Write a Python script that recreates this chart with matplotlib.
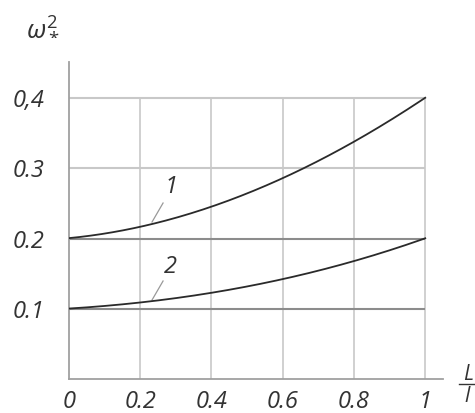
import numpy as np
import matplotlib.pyplot as plt
from matplotlib.lines import Line2D

# ratio L/l
x = [0.0, 0.2, 0.4, 0.6, 0.8, 1.0]
curve1 = [0.200, 0.219, 0.244, 0.285, 0.340, 0.400]
curve2 = [0.100, 0.110, 0.1225, 0.141, 0.1695, 0.200]

xticks = [0, 0.2, 0.4, 0.6, 0.8, 1]
xticklabels = ["0", "0.2", "0.4", "0.6", "0.8", "1"]
yticks = [0.1, 0.2, 0.3, 0.4]
yticklabels = ["0.1", "0.2", "0.3", "0,4"]

plt.rcParams["font.family"] = ["Open Sans", "DejaVu Sans"]
plt.rcParams["mathtext.fontset"] = "custom"
plt.rcParams["mathtext.it"] = "Open Sans:italic"
plt.rcParams["mathtext.rm"] = "Open Sans"

fig = plt.figure(figsize=(4.75, 4.13), dpi=100)
ax = fig.add_axes([0.1453, 0.0823, 0.7874, 0.7676])
ax.set_xlim(0, 1.05)
ax.set_ylim(0, 0.4516)

txt = "#333333"
grid_c = "#c8c8c8"

# grid
ax.vlines(xticks[1:], 0, 0.4, color=grid_c, lw=1.2, zorder=1)
ax.hlines([0.3, 0.4], 0, 1, color=grid_c, lw=1.5, zorder=1)
ax.hlines([0.1, 0.2], 0, 1, color="#8c8c8c", lw=1.5, zorder=2)

# smooth curves through the read points
xs = np.linspace(0, 1, 200)
for ys in (curve1, curve2):
    c = np.polyfit(x, ys, 3)
    ax.plot(xs, np.polyval(c, xs), color="#2a2a2a", lw=1.3, zorder=3)

# curve labels with leaders
ax.plot([0.233, 0.264], [0.2236, 0.2507], color="#999999", lw=0.9)
ax.plot([0.233, 0.264], [0.1125, 0.1396], color="#999999", lw=0.9)
ax.text(0.286, 0.2735, "1", fontsize=17, style="italic", color=txt, ha="center", va="center")
ax.text(0.286, 0.1595, "2", fontsize=17, style="italic", color=txt, ha="center", va="center")

for s in ("top", "right"):
    ax.spines[s].set_visible(False)
for s in ("left", "bottom"):
    ax.spines[s].set_color("#a0a0a0")
    ax.spines[s].set_linewidth(1.3)

ax.set_xticks(xticks)
ax.set_xticklabels(xticklabels, fontsize=17, style="italic", color=txt)
ax.set_yticks(yticks)
ax.set_yticklabels(yticklabels, fontsize=17, style="italic", color=txt)
ax.tick_params(axis="x", length=0, pad=8)
ax.tick_params(axis="y", length=0, pad=18)

fig.text(43 / 475, 1 - 27 / 413, r"$\omega_*^2$", fontsize=19, color=txt, ha="center", va="center")

# x-axis name as a fraction L / l
fig.text(468 / 475, 1 - 374 / 413, "L", fontsize=15, style="italic", color=txt, ha="center", va="center")
fig.text(467 / 475, 1 - 397 / 413, "l", fontsize=15, style="italic", color=txt, ha="center", va="center")
fig.add_artist(Line2D([459 / 475, 1.0], [1 - 384 / 413] * 2, transform=fig.transFigure, color=txt, lw=1.0))

fig.savefig("out.png", dpi=100)
